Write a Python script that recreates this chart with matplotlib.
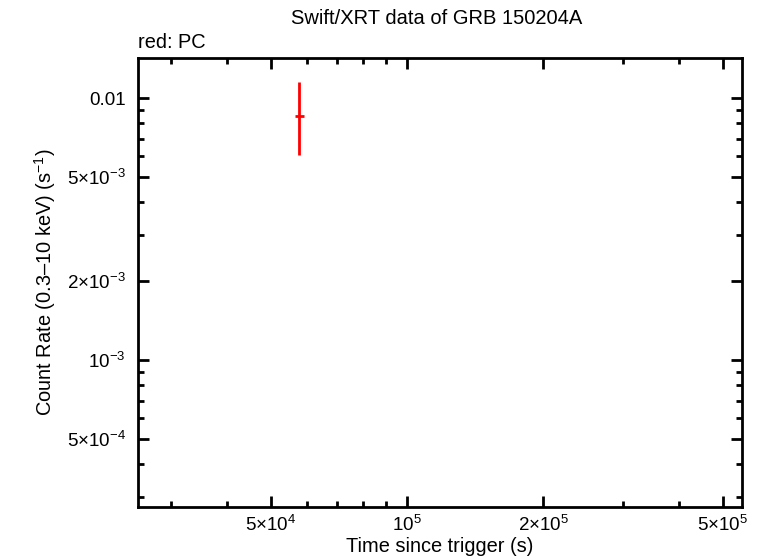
import math
import matplotlib
matplotlib.use('Agg')
import matplotlib.pyplot as plt
from matplotlib.ticker import FixedLocator, FuncFormatter, NullFormatter

plt.rcParams['font.family'] = ['Liberation Sans', 'DejaVu Sans']
plt.rcParams['mathtext.fontset'] = 'custom'
plt.rcParams['mathtext.rm'] = 'Liberation Sans'
plt.rcParams['mathtext.it'] = 'Liberation Sans'

# --- data ---
t = [57700.0]
t_lo = [1200.0]
t_hi = [1350.0]
rate = [0.00854]
rate_lo = [0.00248]
rate_hi = [0.00297]

x_major = [5e4, 1e5, 2e5, 5e5]
x_minor = [3e4, 4e4, 6e4, 7e4, 8e4, 9e4, 3e5, 4e5]
y_major = [5e-4, 1e-3, 2e-3, 5e-3, 1e-2]
y_minor = [3e-4, 4e-4, 6e-4, 7e-4, 8e-4, 9e-4, 3e-3, 4e-3, 6e-3, 7e-3, 8e-3, 9e-3]


def fmt(v, pos=None):
    e = int(math.floor(math.log10(v) + 1e-9))
    m = v / 10**e
    if e == -2 and abs(m - 1) < 1e-6:
        return '0.01'
    if abs(m - 1) < 1e-6:
        return r'$10^{%d}$' % e
    return r'$%d{\times}10^{%d}$' % (round(m), e)


fig = plt.figure(figsize=(7.6, 5.58), dpi=100)
ax = fig.add_axes([138/760, 1-507/558, (742-138)/760, (507-58)/558])

ax.errorbar(t, rate, xerr=[t_lo, t_hi], yerr=[rate_lo, rate_hi],
            fmt='none', ecolor='#ff0000', elinewidth=2, capsize=0)

ax.set_xscale('log')
ax.set_yscale('log')
ax.set_xlim(25400, 551000)
ax.set_ylim(2.75e-4, 0.01422)

ax.xaxis.set_major_locator(FixedLocator(x_major))
ax.xaxis.set_minor_locator(FixedLocator(x_minor))
ax.yaxis.set_major_locator(FixedLocator(y_major))
ax.yaxis.set_minor_locator(FixedLocator(y_minor))
ax.xaxis.set_major_formatter(FuncFormatter(fmt))
ax.yaxis.set_major_formatter(FuncFormatter(fmt))
ax.xaxis.set_minor_formatter(NullFormatter())
ax.yaxis.set_minor_formatter(NullFormatter())

ax.tick_params(which='both', direction='in', top=True, right=True,
               width=2, labelsize=13.5)
ax.tick_params(axis='y', pad=9)
ax.tick_params(axis='x', pad=6)
ax.tick_params(which='major', length=8)
ax.tick_params(which='minor', length=4)
for s in ax.spines.values():
    s.set_linewidth(2)

ax.set_xlabel('Time since trigger (s)', fontsize=14.4, labelpad=1)
ax.set_ylabel('Count Rate (0.3\u201310 keV) (s$^{-1}$)', fontsize=14.4, labelpad=6)
fig.text(437/760, 1-19/558, 'Swift/XRT data of GRB 150204A', ha='center', va='center', fontsize=14.5)
fig.text(138/760, 1-42/558, 'red: PC', ha='left', va='center', fontsize=14.4)

fig.savefig('out.png', dpi=100, facecolor='white')
